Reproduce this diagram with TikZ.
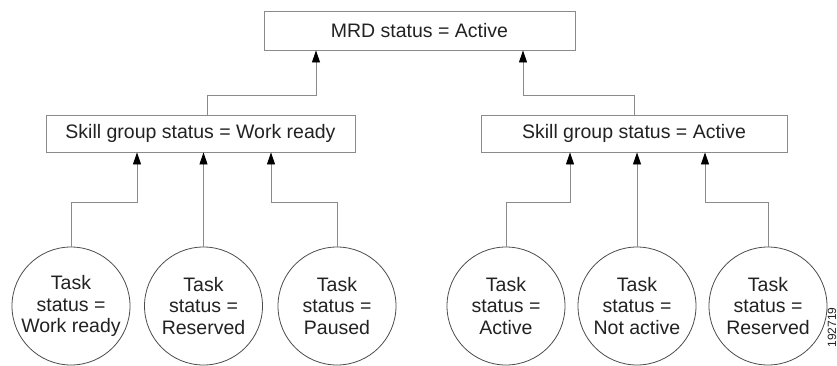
\documentclass[tikz,border=0pt]{standalone}
\usepackage{fontspec}
\setmainfont{Liberation Sans}
\usetikzlibrary{arrows.meta}
\definecolor{linegray}{HTML}{8A8A8A}
\definecolor{txt}{HTML}{222222}
\tikzset{
  statebox/.style={draw=linegray, line width=0.9pt, inner sep=0pt, text=txt,
    font=\fontsize{19.5}{22}\selectfont},
  taskcircle/.style={draw=black!70, line width=0.8pt, circle, minimum size=118pt,
    inner sep=0pt, align=center, text=txt, font=\fontsize{19.5}{21.5}\selectfont},
  conn/.style={draw=linegray, line width=0.9pt,
    -{Triangle[length=12pt,width=8pt,fill=black,color=black]}},
}
\begin{document}
\begin{tikzpicture}[x=1pt,y=-1pt]
\useasboundingbox (0,0) rectangle (837,365);
\fill[white] (0,0) rectangle (837,365);

\node[statebox, minimum width=311pt, minimum height=39pt] (mrd) at (419.5,30.5) {MRD status = Active};
\node[statebox, minimum width=309pt, minimum height=37pt] (sgL) at (200.5,133.5) {Skill group status = Work ready};
\node[statebox, minimum width=306pt, minimum height=37pt] (sgR) at (634,133.5) {Skill group status = Active};

\node[taskcircle] (t1) at (71,306) {Task\\status =\\Work ready};
\node[taskcircle] (t2) at (203.5,306) {Task\\status =\\Reserved};
\node[taskcircle] (t3) at (337,306) {Task\\status =\\Paused};
\node[taskcircle] (t4) at (506,306) {Task\\status =\\Active};
\node[taskcircle] (t5) at (637,306) {Task\\status =\\Not active};
\node[taskcircle] (t6) at (768,306) {Task\\status =\\Reserved};

\node[rotate=90, anchor=east, text=txt, font=\fontsize{12}{14}\selectfont] (fig) at (832,304) {192719};

% skill groups to MRD
\draw[conn] ([xshift=6.5pt]sgL.north) |- ([xshift=-103.5pt,yshift=-45pt]mrd.south) -- ([xshift=-103.5pt]mrd.south);
\draw[conn] (sgR.north) |- ([xshift=103.5pt,yshift=-45pt]mrd.south) -- ([xshift=103.5pt]mrd.south);

% tasks to left skill group
\draw[conn] (t1.north) |- ([xshift=-63.5pt,yshift=-50pt]sgL.south) -- ([xshift=-63.5pt]sgL.south);
\draw[conn] (t2.north) -- (t2.north |- sgL.south);
\draw[conn] (t3.north) |- ([xshift=70.5pt,yshift=-50pt]sgL.south) -- ([xshift=70.5pt]sgL.south);

% tasks to right skill group
\draw[conn] (t4.north) |- ([xshift=-64pt,yshift=-50pt]sgR.south) -- ([xshift=-64pt]sgR.south);
\draw[conn] (t5.north) -- (t5.north |- sgR.south);
\draw[conn] (t6.north) |- ([xshift=71pt,yshift=-50pt]sgR.south) -- ([xshift=71pt]sgR.south);
\end{tikzpicture}
\end{document}
